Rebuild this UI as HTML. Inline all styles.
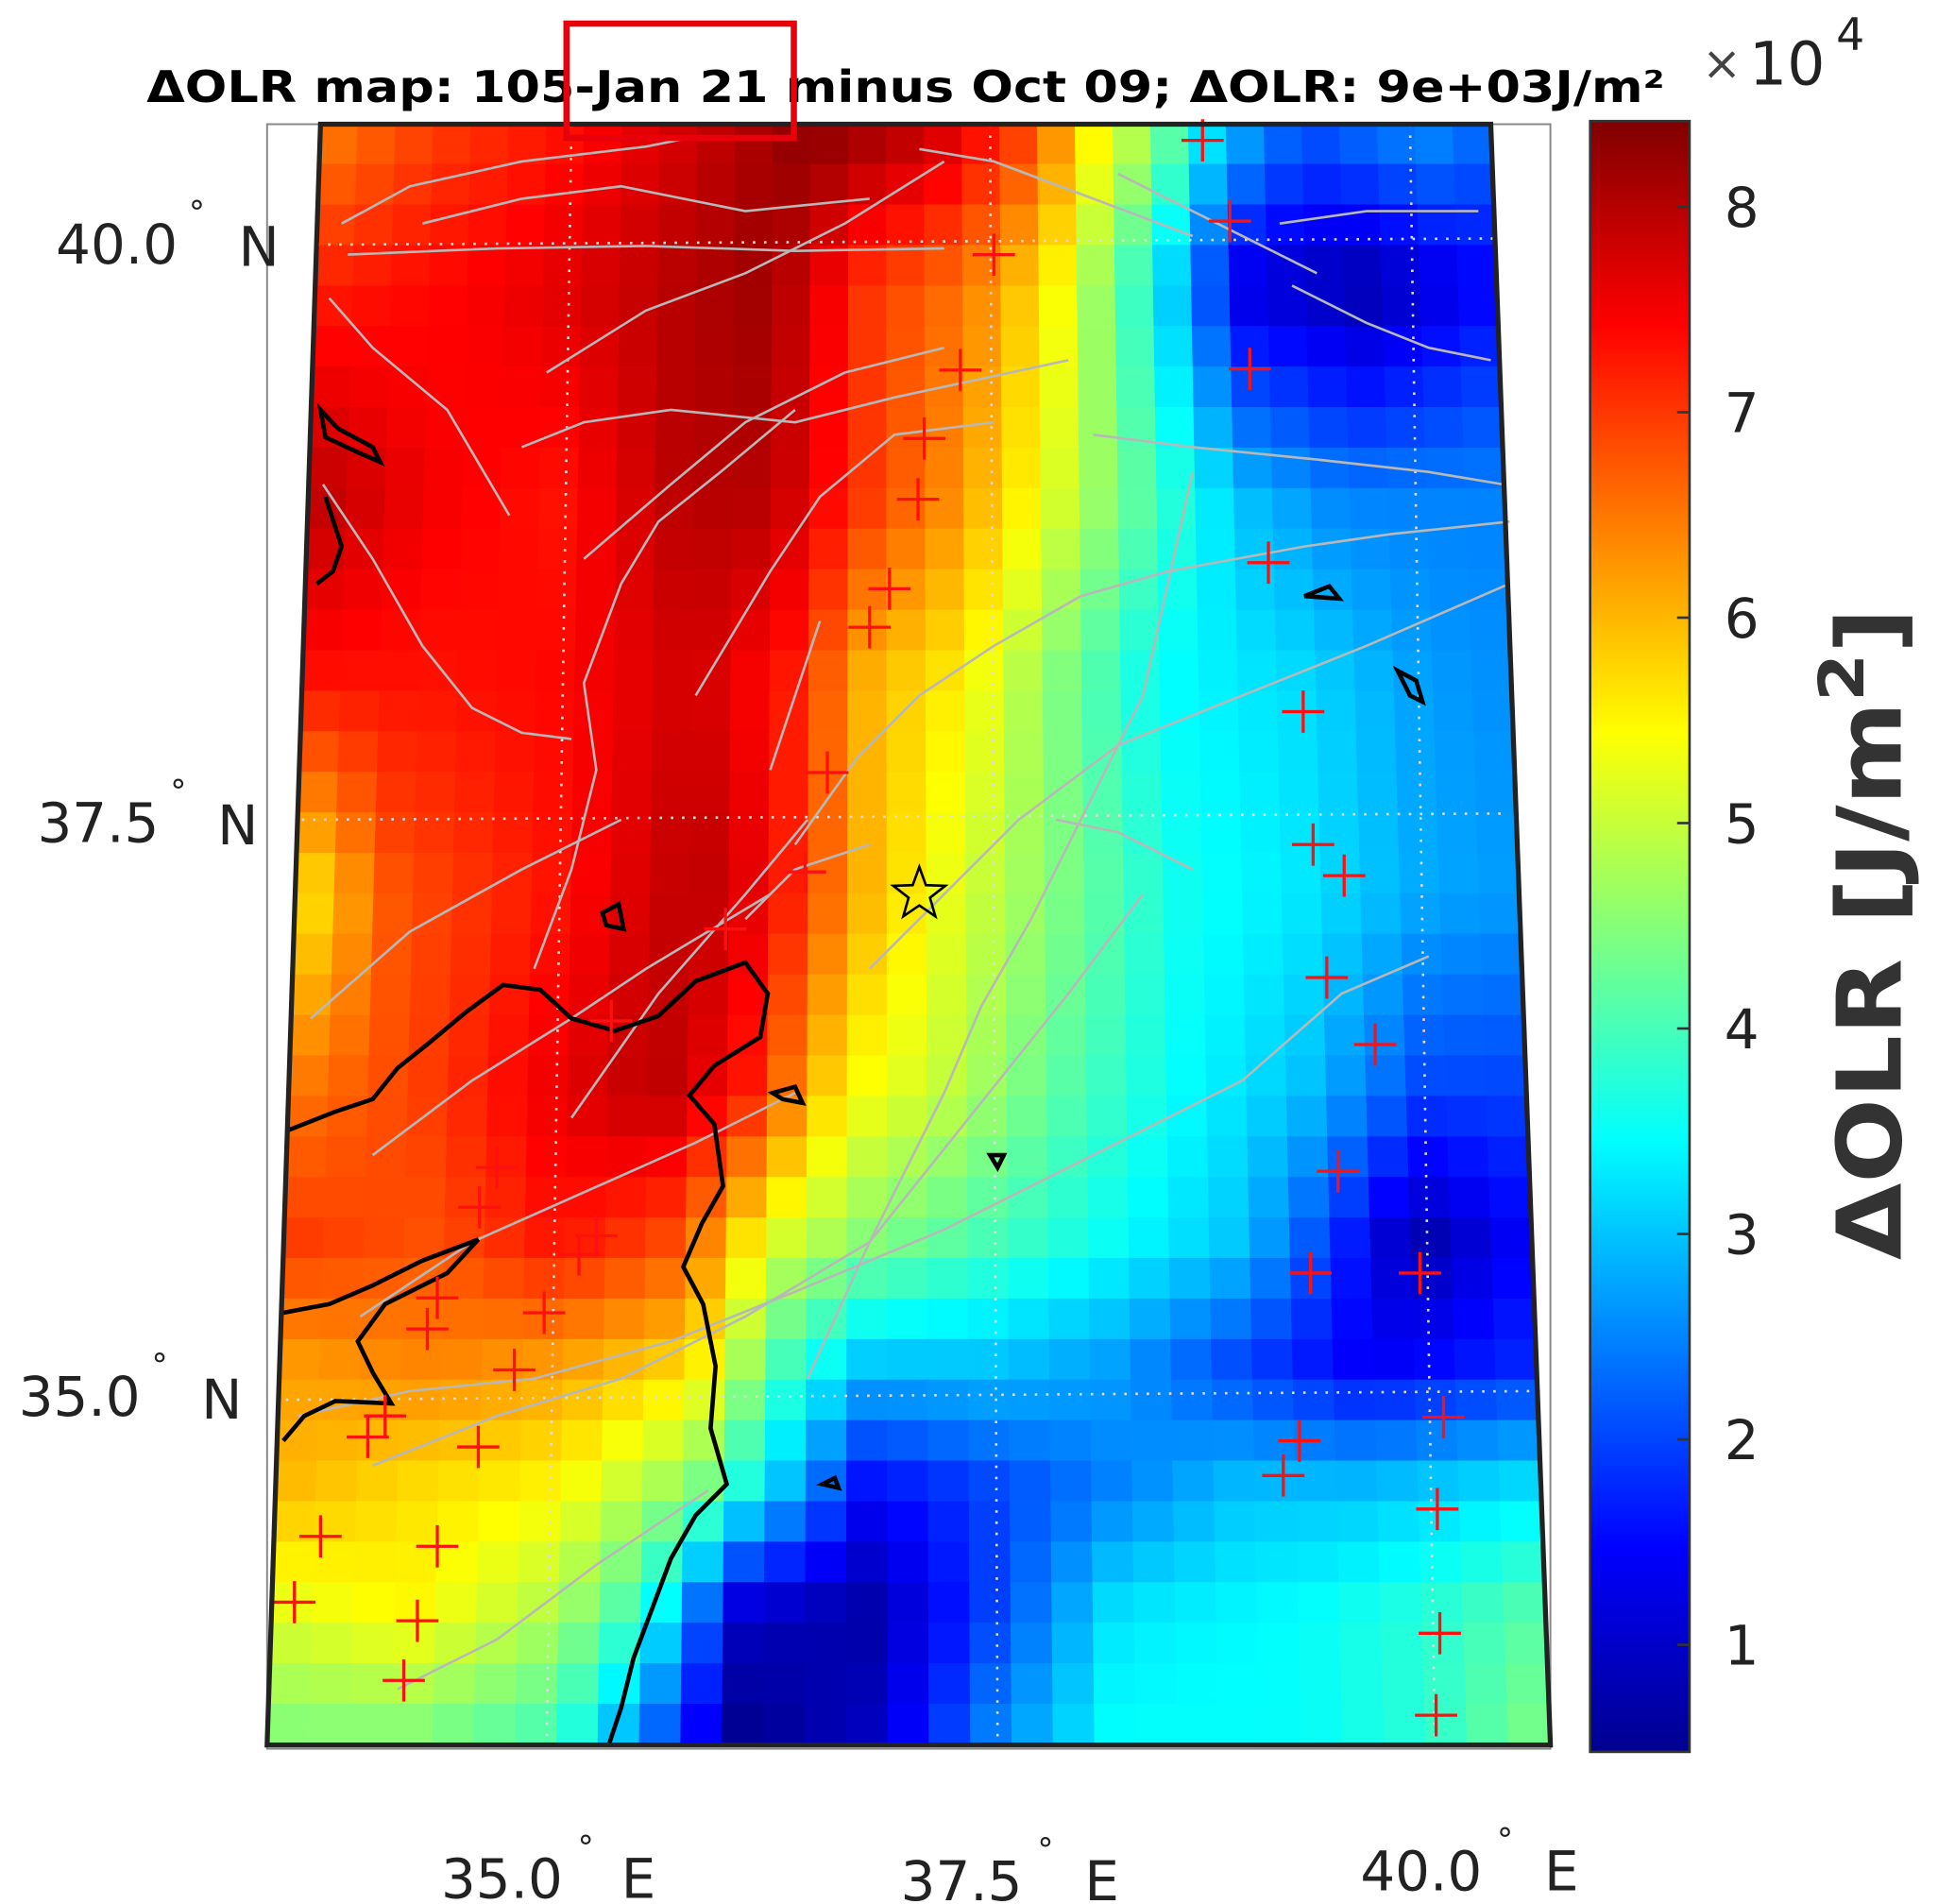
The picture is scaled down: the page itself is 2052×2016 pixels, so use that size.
<!DOCTYPE html>
<html><head><meta charset="utf-8"><style>
html,body{margin:0;padding:0;background:#fff}
svg{display:block}
text{font-family:"DejaVu Sans","Liberation Sans",sans-serif}
</style></head><body>
<svg id="s" width="2052" height="2016" viewBox="0 0 1560 1533" preserveAspectRatio="none" xmlns="http://www.w3.org/2000/svg">
<defs>
<linearGradient id="cb" x1="0" y1="1" x2="0" y2="0">
<stop offset="0" stop-color="#00008f"/><stop offset="0.125" stop-color="#0000ff"/>
<stop offset="0.375" stop-color="#00ffff"/><stop offset="0.625" stop-color="#ffff00"/>
<stop offset="0.875" stop-color="#ff0000"/><stop offset="1" stop-color="#800000"/>
</linearGradient>
</defs>
<rect x="215" y="100" width="1033" height="1308" fill="none" stroke="#888" stroke-width="1.5"/>
<g id="grid"></g>
<g id="over"></g>
<rect x="1280" y="97.5" width="80" height="1313" fill="url(#cb)" stroke="#333" stroke-width="2"/>
<g id="cbt" font-size="44" fill="#222"></g>
<text x="1370" y="64" font-size="38" fill="#444">×</text>
<text x="1408" y="68" font-size="48" fill="#222">10</text>
<text x="1478" y="40" font-size="36" fill="#222">4</text>
<text transform="translate(1530,752) rotate(-90)" text-anchor="middle" font-size="72" font-weight="bold" fill="#333" textLength="525" lengthAdjust="spacingAndGlyphs">ΔOLR [J/m<tspan font-size="50" dy="-30">2</tspan><tspan dy="30">]</tspan></text>
<text x="118" y="82" font-size="35" font-weight="bold" fill="#000" textLength="1222" lengthAdjust="spacingAndGlyphs">ΔOLR map: 105-Jan 21  minus Oct 09; ΔOLR: 9e+03J/m²</text>
<rect x="456" y="19" width="183" height="92" fill="none" stroke="#e8000b" stroke-width="5"/>
<g font-size="44" fill="#222">
<text x="45" y="212">40.0</text><text x="152" y="180" font-size="26">°</text><text x="192" y="214">N</text>
<text x="30" y="678">37.5</text><text x="137" y="646" font-size="26">°</text><text x="175" y="680">N</text>
<text x="15" y="1140">35.0</text><text x="122" y="1108" font-size="26">°</text><text x="162" y="1142">N</text>
<text x="355" y="1528">35.0</text><text x="465" y="1496" font-size="26">°</text><text x="500" y="1528">E</text>
<text x="725" y="1530">37.5</text><text x="835" y="1498" font-size="26">°</text><text x="873" y="1530">E</text>
<text x="1095" y="1522">40.0</text><text x="1205" y="1490" font-size="26">°</text><text x="1243" y="1522">E</text>
</g>
</svg>
<script>
const rows=[
[120,[[258,6.5],[350,7],[450,7.3],[550,7.8],[650,8.3],[750,7.8],[830,6.8],[880,5.5],[930,4.5],[980,3],[1050,2],[1150,2.5],[1200,2.2]]],
[230,[[258,7.2],[400,7.5],[550,8],[620,8.2],[700,7],[780,6.5],[850,5.5],[930,3.5],[1000,1.2],[1100,0.8],[1200,1.5]]],
[400,[[250,8],[350,7.5],[450,7.3],[550,8],[620,8],[700,7],[770,6.3],[850,5.2],[930,4],[1000,3],[1080,2.5],[1210,2.5]]],
[550,[[245,7.3],[350,7.3],[450,7.4],[560,7.8],[640,7.2],[700,6],[780,5.5],[850,4.5],[930,3.5],[1050,3.2],[1150,2.7],[1215,2.6]]],
[720,[[240,5.5],[320,6.8],[450,7.3],[560,8],[620,7.5],[700,6],[760,5.3],[850,4.5],[950,3.6],[1050,3.3],[1150,2.8],[1220,2.7]]],
[880,[[235,6.5],[350,7],[450,7.6],[530,8],[600,7.3],[680,5.5],[760,5],[850,4.2],[950,3.5],[1050,3],[1150,2],[1225,2]]],
[1000,[[230,7],[350,6.8],[450,7.3],[550,6.8],[620,5.2],[700,4.5],[800,4],[900,3.5],[1000,3],[1080,1.8],[1140,0.8],[1230,1.5]]],
[1100,[[228,6.2],[350,6.4],[450,6.2],[560,5.7],[630,4],[700,3],[800,3],[900,2.7],[1000,2],[1100,1.4],[1235,1.8]]],
[1200,[[225,6],[330,5.7],[450,5.5],[560,4.5],[630,3],[700,1.5],[800,2],[900,2.5],[1000,3],[1100,3],[1240,3.3]]],
[1300,[[220,5.2],[330,5.5],[450,4.8],[520,3.8],[600,1],[700,0.8],[800,2],[900,3.3],[1050,3.5],[1150,3.8],[1245,4.2]]],
[1395,[[215,4.5],[330,4.5],[450,4],[520,2.5],[600,0.6],[700,1],[800,2.5],[900,3.5],[1050,3.5],[1150,3.8],[1248,4.5]]]];
function ix(pts,x){if(x<=pts[0][0])return pts[0][1];for(let i=1;i<pts.length;i++){if(x<=pts[i][0]){const t=(x-pts[i-1][0])/(pts[i][0]-pts[i-1][0]);return pts[i-1][1]*(1-t)+pts[i][1]*t;}}return pts[pts.length-1][1];}
function val(x,y){if(y<=rows[0][0])return ix(rows[0][1],x);for(let i=1;i<rows.length;i++){if(y<=rows[i][0]){const t=(y-rows[i-1][0])/(rows[i][0]-rows[i-1][0]);return ix(rows[i-1][1],x)*(1-t)+ix(rows[i][1],x)*t;}}return ix(rows[rows.length-1][1],x);}
function jet(v){let t=(v-0.5)/(8.42-0.5);t=Math.max(0,Math.min(1,t));
const c=(a)=>Math.round(255*Math.max(0,Math.min(1,a)));
const r=1.5-Math.abs(4*t-3),g=1.5-Math.abs(4*t-2),b=1.5-Math.abs(4*t-1);
return `rgb(${c(r)},${c(g)},${c(b)})`;}
const g=document.getElementById('grid');
const NC=31,NR=40,T=100,B=1405;
function pt(u,v){const y=T+(B-T)*v;const xl=258+(215-258)*v,xr=1200+(1248-1200)*v;return [xl+(xr-xl)*u,y];}
let s='';
for(let j=0;j<NR;j++)for(let i=0;i<NC;i++){
const a=pt(i/NC,j/NR),b=pt((i+1)/NC,j/NR),c=pt((i+1)/NC,(j+1)/NR),d=pt(i/NC,(j+1)/NR);
const m=pt((i+.5)/NC,(j+.5)/NR);
s+=`<polygon points="${a[0]-.6},${a[1]-.6} ${b[0]+.6},${b[1]-.6} ${c[0]+.6},${c[1]+.6} ${d[0]-.6},${d[1]+.6}" fill="${jet(val(m[0],m[1]))}"/>`;}
g.innerHTML=s;
let o='';
o+='<g stroke="#ddd" stroke-width="2" stroke-dasharray="2,7" fill="none">';
o+='<path d="M460,100 L440,1405 M797,100 L803,1405 M1135,100 L1155,1405 M255,197 L1205,192 M243,660 L1215,655 M230,1127 L1240,1120"/></g>';
const F=["M275,180 L330,150 L420,130 L520,118 L560,110","M280,205 L400,200 L520,198 L640,202 L760,200","M265,240 L300,280 L360,330 L410,415","M260,390 L300,450 L340,520 L380,570 L420,590 L460,595","M420,360 L470,340 L540,330 L640,340 L720,320 L860,290","M340,180 L420,160 L500,150 L600,170 L700,160","M440,300 L520,250 L600,220 L680,180 L760,130","M470,450 L540,390 L600,340 L680,300 L760,280","M430,780 L460,700 L480,620 L470,550 L500,470 L530,420 L580,380 L640,330","M250,820 L330,750 L420,700 L500,660","M300,930 L380,870 L460,820 L520,780 L620,720","M460,900 L530,800 L600,720 L650,660","M290,1060 L380,1000 L470,960 L560,920 L640,880","M300,1180 L400,1140 L500,1110 L600,1060 L700,1000 L780,900 L860,800 L920,720","M320,1360 L400,1320 L480,1260 L570,1200","M240,1140 L330,1120 L430,1110 L540,1080 L640,1040 L760,990 L880,930 L1000,870 L1080,800 L1150,770","M650,1110 L700,1000 L760,880 L790,810 L830,740 L880,640 L920,560 L940,470 L960,380","M640,680 L690,610 L740,560 L800,520 L870,480 L940,460 L1050,440 L1120,430 L1215,420","M700,780 L760,720 L820,660 L900,600 L1000,560 L1100,520 L1215,470","M850,660 L900,670 L960,700","M880,350 L960,360 L1060,370 L1150,380 L1210,390","M1030,180 L1100,170 L1190,170","M1040,230 L1100,260 L1150,280 L1200,290","M900,140 L980,180 L1060,220","M740,120 L800,130 L880,160 L960,190","M560,560 L620,460 L660,400 L720,350 L800,340","M600,740 L640,700 L700,680","M620,620 L640,560 L660,500"];
o+='<g stroke="#b8b8b8" stroke-width="2" fill="none">'+F.map(d=>`<path d="${d}"/>`).join('')+'</g>';
const C=["M232,910 L270,895 L300,885 L320,860 L345,840 L375,815 L405,793 L435,797 L460,820 L495,830 L530,818 L560,790 L600,775 L618,800 L612,835 L575,858 L555,882 L575,905 L582,955 L565,985 L550,1020 L566,1050 L576,1100 L572,1150 L585,1195 L560,1220 L540,1255 L525,1295 L510,1335 L500,1375 L490,1405",
"M228,1057 L265,1050 L300,1035 L340,1015 L385,998 L360,1025 L310,1050 L288,1080 L300,1105 L315,1130 L270,1128 L245,1140 L228,1160",
"M258,330 L272,345 L300,360 L306,372 L290,365 L262,352 Z","M262,400 L275,440 L268,460 L255,470","M485,735 L498,728 L502,748 L488,745 Z","M622,880 L640,875 L646,888 L630,885 Z","M1050,480 L1070,472 L1078,482 Z","M1125,540 L1140,548 L1145,565 L1135,560 Z","M662,1195 L672,1190 L675,1198 Z","M797,930 L808,930 L803,940 Z"];
o+='<g stroke="#000" stroke-width="3.5" fill="none">'+C.map(d=>`<path d="${d}"/>`).join('')+'</g>';
const P=[[968,113],[990,178],[800,205],[1006,297],[773,298],[744,353],[739,402],[1021,453],[716,474],[700,505],[1049,573],[666,622],[1057,680],[1082,705],[648,702],[584,748],[1068,787],[1107,841],[492,822],[1077,943],[400,940],[386,972],[480,995],[466,1010],[1055,1025],[1143,1025],[438,1057],[344,1070],[352,1045],[414,1103],[1162,1141],[310,1140],[296,1157],[385,1165],[1046,1160],[1033,1188],[1157,1215],[258,1237],[352,1245],[237,1290],[336,1305],[1159,1315],[325,1353],[1156,1381]];
o+='<g stroke="#ff1010" stroke-width="2.5">'+P.map(p=>`<path d="M${p[0]-17},${p[1]} h34 M${p[0]},${p[1]-17} v34"/>`).join('')+'</g>';
let st='';for(let k=0;k<10;k++){const r=k%2?9:22,a=-Math.PI/2+k*Math.PI/5;st+=(740+r*Math.cos(a)).toFixed(1)+','+(720+r*Math.sin(a)).toFixed(1)+' ';}
o+=`<polygon points="${st}" fill="none" stroke="#000" stroke-width="2"/>`;
o+='<path d="M258,100 L1200,100 L1248,1405 L215,1405 Z" fill="none" stroke="#222" stroke-width="4"/>';
document.getElementById('over').innerHTML=o;
let t='';for(let v=1;v<=8;v++){const y=166.5+(8-v)*165.4;t+=`<line x1="1350" y1="${y}" x2="1360" y2="${y}" stroke="#333" stroke-width="2"/><text x="1388" y="${y+16}">${v}</text>`;}
document.getElementById('cbt').innerHTML=t;
</script>
</body></html>
